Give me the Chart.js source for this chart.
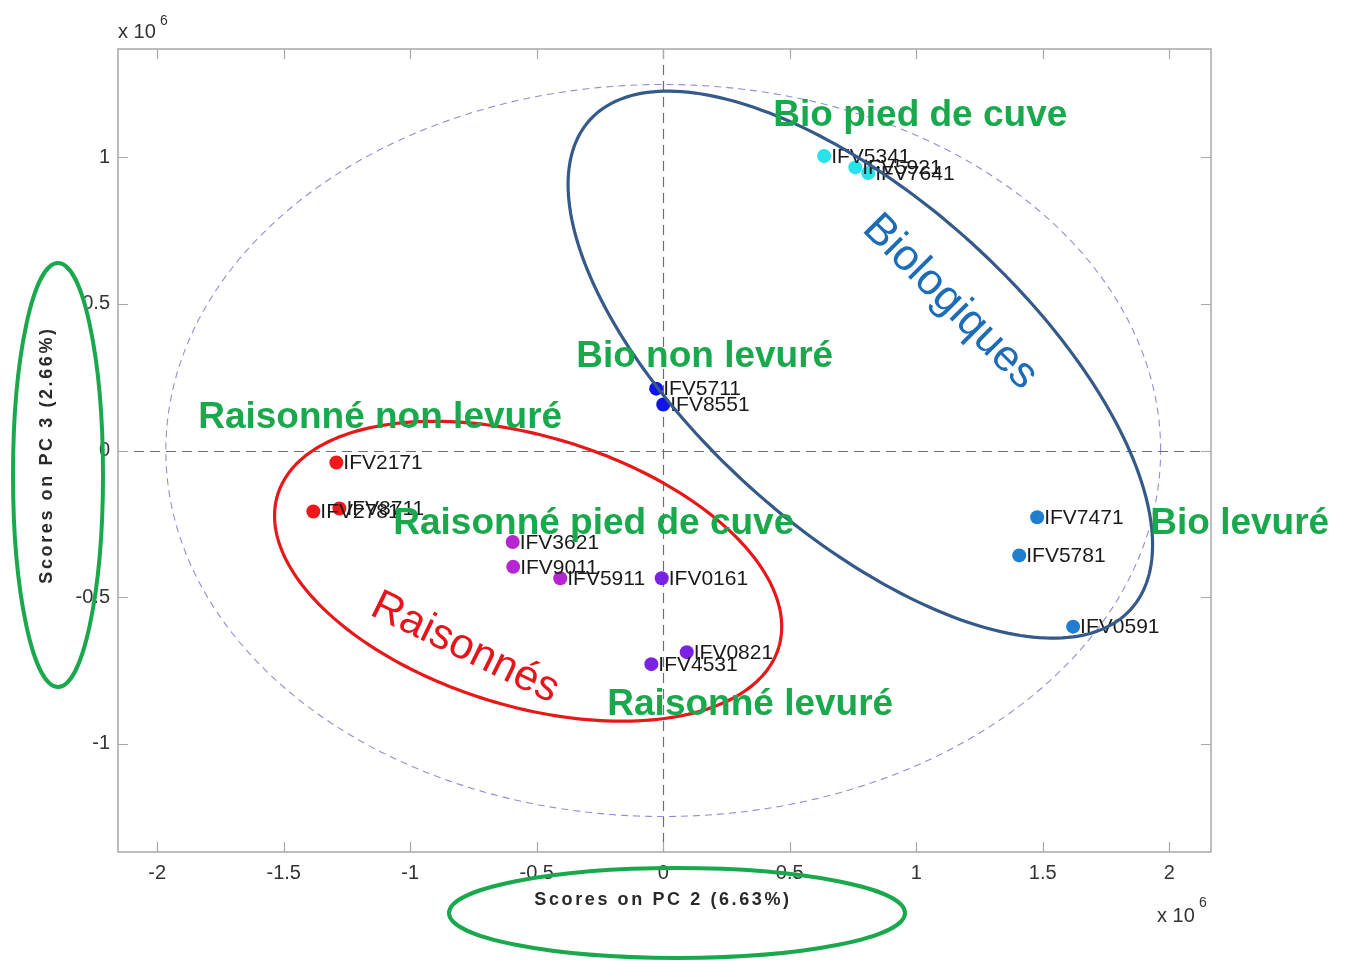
<!DOCTYPE html>
<html>
<head>
<meta charset="utf-8">
<script src="https://cdn.jsdelivr.net/npm/chart.js@4.4.1/dist/chart.umd.min.js"></script>
<style>
  html, body { margin: 0; padding: 0; background: #fff; }
  #wrap { width: 1345px; height: 966px; position: relative; }
</style>
</head>
<body>
<div id="wrap"><canvas id="c"></canvas></div>
<script>
// PCA scores (x 10^6) per wine group
const groupNames = ['Bio pied de cuve', 'Bio non levuré', 'Bio levuré',
                    'Raisonné non levuré', 'Raisonné pied de cuve', 'Raisonné levuré'];
const groupColors = ['#27e2ea', '#1212ee', '#1f7ed0', '#f01818', '#b526d2', '#7a22e4'];
const sampleIds = [
  ['IFV5341', 'IFV5921', 'IFV7641'],
  ['IFV5711', 'IFV8551'],
  ['IFV7471', 'IFV5781', 'IFV0591'],
  ['IFV2171', 'IFV2781', 'IFV8711'],
  ['IFV3621', 'IFV9011', 'IFV5911'],
  ['IFV0161', 'IFV0821', 'IFV4531']
];
const pc2Scores = [
  [0.636, 0.759, 0.810],
  [-0.028, 0.000],
  [1.478, 1.407, 1.620],
  [-1.292, -1.383, -1.280],
  [-0.595, -0.593, -0.407],
  [-0.006, 0.093, -0.047]
];
const pc3Scores = [
  [1.005, 0.966, 0.947],
  [0.211, 0.157],
  [-0.228, -0.358, -0.601],
  [-0.041, -0.208, -0.198],
  [-0.312, -0.397, -0.436],
  [-0.436, -0.688, -0.729]
];
const xTicks = [-2, -1.5, -1, -0.5, 0, 0.5, 1, 1.5, 2];
const yTicks = [-1, -0.5, 0, 0.5, 1];

// Annotation shapes in score units: centre plus two semi-axis vectors
const confEllipse = { c: [0, 0], u: [1.966, 0], v: [0, 1.249] };
const bioEllipse = { c: [0.779, 0.293], u: [1.069, -0.835], v: [0.4376, 0.4167] };
const raisEllipse = { c: [-0.534, -0.412], u: [0.990, -0.261], v: [-0.156, -0.440] };

// Group caption anchors (left edge, vertical middle), score units
const groupLabelAt = [
  [0.435, 1.141], [-0.344, 0.320], [1.925, -0.249],
  [-1.838, 0.112], [-1.067, -0.249], [-0.221, -0.869]
];

const FONT = '"Liberation Sans", Arial, sans-serif';
const GREEN = '#19a94c';

function traceEllipse(ctx, xs, ys, e) {
  ctx.beginPath();
  for (let i = 0; i <= 240; i++) {
    const t = i / 240 * Math.PI * 2;
    const dx = e.c[0] + Math.cos(t) * e.u[0] + Math.sin(t) * e.v[0];
    const dy = e.c[1] + Math.cos(t) * e.u[1] + Math.sin(t) * e.v[1];
    const px = xs.getPixelForValue(dx), py = ys.getPixelForValue(dy);
    if (i === 0) ctx.moveTo(px, py); else ctx.lineTo(px, py);
  }
  ctx.closePath();
}

const datasets = groupNames.map((name, g) => ({
  label: name,
  data: pc2Scores[g].map((xv, i) => ({ x: xv, y: pc3Scores[g][i], id: sampleIds[g][i] })),
  backgroundColor: groupColors[g],
  borderWidth: 0,
  pointRadius: 7,
  pointHoverRadius: 7
}));

const decorations = {
  id: 'decorations',
  beforeDatasetsDraw(chart) {
    const { ctx, chartArea: a, scales: { x, y } } = chart;
    ctx.save();
    // 95% confidence ellipse
    ctx.strokeStyle = '#8e8ed8';
    ctx.lineWidth = 1.1;
    ctx.setLineDash([7, 5]);
    traceEllipse(ctx, x, y, confEllipse);
    ctx.stroke();
    // zero axes
    ctx.strokeStyle = '#6e6e6e';
    ctx.lineWidth = 1.2;
    ctx.setLineDash([10, 6]);
    const x0 = Math.round(x.getPixelForValue(0)) + 0.5;
    const y0 = Math.round(y.getPixelForValue(0)) + 0.5;
    ctx.beginPath();
    ctx.moveTo(x0, a.top); ctx.lineTo(x0, a.bottom);
    ctx.moveTo(a.left, y0); ctx.lineTo(a.right, y0);
    ctx.stroke();
    ctx.restore();
  },
  afterDatasetsDraw(chart) {
    const { ctx, scales: { x, y } } = chart;
    ctx.save();
    // sample names
    ctx.fillStyle = '#1a1a1a';
    ctx.font = '21px ' + FONT;
    ctx.textAlign = 'left';
    ctx.textBaseline = 'middle';
    chart.data.datasets.forEach(ds => {
      ds.data.forEach(p => {
        ctx.fillText(p.id, x.getPixelForValue(p.x) + 7, y.getPixelForValue(p.y) + 1);
      });
    });
    // family ellipses
    ctx.setLineDash([]);
    ctx.lineWidth = 3.2;
    ctx.strokeStyle = '#355a8a';
    traceEllipse(ctx, x, y, bioEllipse);
    ctx.stroke();
    ctx.strokeStyle = '#e81818';
    traceEllipse(ctx, x, y, raisEllipse);
    ctx.stroke();
    // family names along the ellipses
    ctx.textAlign = 'center';
    ctx.textBaseline = 'middle';
    ctx.font = '44px ' + FONT;
    ctx.fillStyle = '#1c6cb8';
    ctx.save();
    ctx.translate(950, 302);
    ctx.rotate(45 * Math.PI / 180);
    ctx.fillText('Biologiques', 0, 0);
    ctx.restore();
    ctx.font = '43px ' + FONT;
    ctx.fillStyle = '#e8141b';
    ctx.save();
    ctx.translate(465, 648);
    ctx.rotate(26 * Math.PI / 180);
    ctx.fillText('Raisonnés', 0, 0);
    ctx.restore();
    // group captions
    ctx.font = 'bold 37px ' + FONT;
    ctx.fillStyle = GREEN;
    ctx.textAlign = 'left';
    groupNames.forEach((name, g) => {
      ctx.fillText(name, x.getPixelForValue(groupLabelAt[g][0]), y.getPixelForValue(groupLabelAt[g][1]));
    });
    ctx.restore();
  },
  afterDraw(chart) {
    const { ctx, chartArea: a, scales: { x, y } } = chart;
    ctx.save();
    // axes box with inward ticks
    ctx.strokeStyle = '#a8a8a8';
    ctx.lineWidth = 1.5;
    ctx.strokeRect(a.left, a.top, a.right - a.left, a.bottom - a.top);
    ctx.lineWidth = 1.2;
    ctx.beginPath();
    xTicks.forEach(v => {
      const px = Math.round(x.getPixelForValue(v)) + 0.5;
      ctx.moveTo(px, a.bottom); ctx.lineTo(px, a.bottom - 10);
      ctx.moveTo(px, a.top); ctx.lineTo(px, a.top + 10);
    });
    yTicks.forEach(v => {
      const py = Math.round(y.getPixelForValue(v)) + 0.5;
      ctx.moveTo(a.left, py); ctx.lineTo(a.left + 10, py);
      ctx.moveTo(a.right, py); ctx.lineTo(a.right - 10, py);
    });
    ctx.stroke();
    // exponent markers
    ctx.fillStyle = '#333';
    ctx.textBaseline = 'alphabetic';
    ctx.textAlign = 'left';
    ctx.font = '20px ' + FONT;
    ctx.fillText('x 10', a.left, a.top - 11);
    ctx.fillText('x 10', 1157, 922);
    ctx.font = '14px ' + FONT;
    ctx.fillText('6', a.left + 42, a.top - 24);
    ctx.fillText('6', 1199, 907);
    // axis titles
    ctx.fillStyle = '#2a2a2a';
    ctx.font = 'bold 18px ' + FONT;
    ctx.letterSpacing = '2.6px';
    ctx.textAlign = 'center';
    ctx.textBaseline = 'middle';
    ctx.fillText('Scores on PC 2 (6.63%)', 663, 900);
    ctx.save();
    ctx.translate(47, 455);
    ctx.rotate(-Math.PI / 2);
    ctx.fillText('Scores on PC 3 (2.66%)', 0, 0);
    ctx.restore();
    ctx.letterSpacing = '0px';
    // highlight rings around the axis titles
    ctx.strokeStyle = GREEN;
    ctx.lineWidth = 4;
    ctx.beginPath();
    ctx.ellipse(58, 475, 45, 212, 0, 0, Math.PI * 2);
    ctx.stroke();
    ctx.beginPath();
    ctx.ellipse(677, 913, 228, 45, 0, 0, Math.PI * 2);
    ctx.stroke();
    ctx.restore();
  }
};

new Chart(document.getElementById('c'), {
  type: 'scatter',
  data: { datasets },
  options: {
    responsive: true,
    maintainAspectRatio: false,
    animation: false,
    layout: { padding: { left: 0, top: 49, right: 134, bottom: 0 } },
    plugins: { legend: { display: false }, tooltip: { enabled: false } },
    scales: {
      x: {
        type: 'linear',
        min: -2.155, max: 2.165,
        grid: { display: false, drawTicks: false },
        border: { display: false },
        afterBuildTicks: s => { s.ticks = xTicks.map(v => ({ value: v })); },
        afterFit: s => { s.height = 114; },
        ticks: { padding: 9, color: '#333', font: { family: FONT, size: 20 },
                 callback: v => String(v), maxRotation: 0, autoSkip: false }
      },
      y: {
        type: 'linear',
        min: -1.37, max: 1.37,
        grid: { display: false, drawTicks: false },
        border: { display: false },
        afterBuildTicks: s => { s.ticks = yTicks.map(v => ({ value: v })); },
        afterFit: s => { s.width = 118; },
        ticks: { padding: 8, color: '#333', font: { family: FONT, size: 20 },
                 callback: v => String(v), autoSkip: false }
      }
    }
  },
  plugins: [decorations]
});
</script>
</body>
</html>
